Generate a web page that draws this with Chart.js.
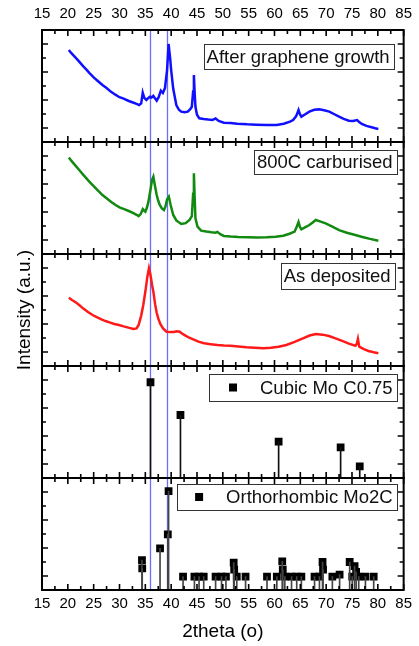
<!DOCTYPE html>
<html>
<head>
<meta charset="utf-8">
<script src="https://cdn.jsdelivr.net/npm/chart.js@4.4.1/dist/chart.umd.min.js"></script>
<style>
  html, body { margin: 0; padding: 0; background: #fff; }
  canvas { display: block; }
</style>
</head>
<body>
<canvas id="xrd" width="419" height="646"></canvas>
<script>
// X-ray diffraction scans, [2theta, intensity] in arbitrary units
const afterGrowth = [
  [20.2,6.57],[20.6,6.38],[21.0,6.22],[21.5,6.02],[22.2,5.74],[23.0,5.4],[23.6,5.17],[24.2,4.92],
  [25.0,4.62],[25.8,4.36],[26.7,4.07],[27.5,3.86],[28.3,3.6],[29.2,3.38],[30.0,3.2],[30.8,3.1],
  [31.8,2.93],[32.6,2.82],[33.3,2.72],[33.8,2.64],[34.2,2.76],[34.5,3.52],[34.8,3.15],[35.2,3.0],
  [35.6,3.15],[35.9,3.23],[36.2,3.18],[36.55,3.29],[36.9,3.1],[37.2,2.95],[37.6,3.22],[38.0,3.67],
  [38.4,3.5],[38.8,3.85],[39.2,5.1],[39.5,7.0],[39.8,6.0],[40.0,5.14],[40.4,3.8],[41.0,2.64],
  [41.5,2.3],[41.95,2.17],[42.6,2.12],[43.2,2.17],[43.7,2.35],[44.0,2.52],[44.25,3.6],[44.4,4.79],
  [44.55,3.5],[44.7,2.52],[45.0,1.95],[45.45,1.69],[46.3,1.64],[47.2,1.6],[48.0,1.58],[48.6,1.68],
  [49.2,1.5],[50.2,1.38],[51.5,1.36],[52.8,1.3],[54.7,1.26],[56.5,1.24],[58.5,1.22],[60.4,1.21],
  [61.8,1.3],[63.0,1.45],[63.6,1.57],[64.2,1.85],[64.65,2.29],[64.9,2.0],[65.2,1.81],[65.8,1.95],
  [66.75,2.17],[67.7,2.3],[68.65,2.33],[69.6,2.27],[70.6,2.17],[71.5,2.0],[72.5,1.81],[73.4,1.65],
  [74.4,1.52],[75.2,1.5],[76.0,1.57],[76.4,1.42],[76.9,1.29],[77.8,1.15],[78.8,1.05],[79.5,0.98],[80.1,0.93]
];
const carburised = [
  [20.2,6.9],[20.7,6.65],[21.4,6.35],[22.2,6.0],[23.0,5.65],[23.6,5.4],[24.15,5.17],[25.0,4.85],
  [25.8,4.55],[26.7,4.21],[27.5,3.98],[28.4,3.72],[29.25,3.5],[30.0,3.33],[30.9,3.2],[31.8,3.07],
  [32.7,2.92],[33.3,2.8],[33.7,2.71],[34.1,2.85],[34.5,3.21],[34.8,3.08],[35.0,3.02],[35.3,3.3],
  [35.6,3.74],[36.0,4.6],[36.3,5.3],[36.55,5.52],[36.8,5.0],[37.2,4.21],[37.5,3.8],[37.8,3.5],
  [38.2,3.25],[38.6,3.14],[38.9,3.4],[39.2,3.9],[39.55,4.1],[39.9,3.5],[40.4,2.79],[41.0,2.4],
  [41.95,2.14],[42.8,2.2],[43.55,2.43],[44.0,2.7],[44.25,4.3],[44.4,5.76],[44.55,4.0],[44.7,2.55],
  [45.1,1.95],[45.8,1.67],[46.8,1.6],[47.8,1.55],[48.6,1.52],[48.95,1.58],[49.5,1.42],[50.2,1.29],
  [51.5,1.25],[53.0,1.22],[54.8,1.2],[56.6,1.17],[58.5,1.19],[60.2,1.24],[61.7,1.31],[62.9,1.45],
  [63.9,1.6],[64.3,1.95],[64.65,2.29],[64.9,1.95],[65.2,1.76],[65.9,1.9],[66.75,2.07],[67.4,2.25],
  [68.0,2.43],[68.8,2.33],[69.9,2.19],[71.2,1.95],[72.5,1.71],[74.0,1.52],[75.65,1.36],[77.0,1.22],
  [78.5,1.08],[80.1,0.95]
];
const asDeposited = [
  [20.2,4.88],[20.8,4.72],[21.5,4.55],[22.2,4.36],[23.0,4.1],[23.9,3.86],[24.8,3.64],[25.7,3.47],
  [26.5,3.33],[27.3,3.21],[28.2,3.1],[29.0,3.0],[29.9,2.93],[30.8,2.83],[31.7,2.74],[32.7,2.64],
  [33.3,2.68],[33.7,2.93],[34.2,3.6],[34.6,4.36],[35.0,5.3],[35.4,6.4],[35.7,6.98],[36.0,6.5],
  [36.3,5.8],[36.55,5.31],[36.9,4.4],[37.2,3.8],[37.5,3.4],[37.9,3.0],[38.4,2.7],[39.1,2.45],
  [39.8,2.42],[40.5,2.43],[41.1,2.48],[41.65,2.45],[42.1,2.32],[42.6,2.21],[43.5,2.02],[44.5,1.86],
  [45.4,1.72],[46.4,1.62],[47.6,1.56],[48.95,1.5],[50.2,1.47],[51.5,1.45],[53.0,1.4],[54.6,1.34],
  [56.2,1.3],[57.85,1.26],[59.3,1.3],[60.8,1.38],[62.3,1.5],[63.9,1.72],[65.5,1.98],[66.8,2.18],
  [68.0,2.29],[69.3,2.24],[70.55,2.14],[71.8,1.97],[73.1,1.79],[74.4,1.6],[75.65,1.45],[75.95,1.6],
  [76.15,1.93],[76.4,1.38],[77.3,1.2],[78.2,1.07],[79.2,0.98],[80.1,0.91]
];

// Reference reflections
const cubicPos = [36.0, 41.8, 60.8, 72.8, 76.5];
const cubicInt = [6.84, 4.5, 2.6, 2.19, 0.83];
const orthoPos = [34.35,34.4,37.85,39.35,39.5,42.3,44.5,45.4,46.3,48.6,49.75,50.6,52.1,52.2,52.7,54.4,
  58.55,60.45,61.5,61.6,62.0,63.3,64.3,65.2,67.75,68.7,69.3,69.4,71.2,72.6,74.55,75.05,75.5,75.8,76.3,77.6,79.2];
const orthoInt = [2.14,1.55,2.98,3.98,7.07,0.95,0.95,0.95,0.95,0.95,0.95,0.95,1.95,1.45,0.95,0.95,
  0.95,0.95,2.05,1.45,0.95,0.95,0.95,0.95,0.95,0.95,2.0,1.45,0.95,1.1,2.0,0.95,1.7,1.3,0.95,0.95,0.95];

// Marker lines across all panels
const guideLines = [35.9, 39.2];

// Axis ticks
const xTickValues = [15,20,25,30,35,40,45,50,55,60,65,70,75,80,85];
const xMinorValues = [17.5,22.5,27.5,32.5,37.5,42.5,47.5,52.5,57.5,62.5,67.5,72.5,77.5,82.5];
const yMajorValues = [1,3,5,7];
const yMinorValues = [2,4,6];

const panelNames = ['After graphene growth', '800C carburised', 'As deposited', 'Cubic Mo C0.75', 'Orthorhombic Mo2C'];

const FONT = '"Liberation Sans", Arial, sans-serif';
const pts = arr => arr.map(p => ({ x: p[0], y: p[1] }));
const sticks = (xs, ys) => xs.map((x, i) => ({ x, y: ys[i] }));

// top to bottom
const panelAxes = ['p1', 'p2', 'p3', 'p4', 'p5'];

function curve(label, data, axis, color) {
  return { type: 'line', label, data: pts(data), yAxisID: axis, borderColor: color,
           borderWidth: 2.5, pointRadius: 0, tension: 0, fill: false };
}
function stems(data, axis, color) {
  return { type: 'bar', label: '', data, yAxisID: axis, backgroundColor: color,
           barThickness: 1, grouped: false };
}
function markers(label, data, axis) {
  return { type: 'scatter', label, data, yAxisID: axis, pointStyle: 'rect', pointRadius: 5.5,
           backgroundColor: '#000', borderColor: '#000', borderWidth: 0, showLine: false };
}

const datasets = [
  curve(panelNames[0], afterGrowth, 'p1', '#1010ff'),
  curve(panelNames[1], carburised, 'p2', '#128a12'),
  curve(panelNames[2], asDeposited, 'p3', '#ff1a1a'),
  stems(sticks(cubicPos, cubicInt), 'p4', '#111'),
  markers(panelNames[3], sticks(cubicPos, cubicInt), 'p4'),
  stems(sticks(orthoPos, orthoInt), 'p5', '#444'),
  markers(panelNames[4], sticks(orthoPos, orthoInt), 'p5')
];

// vertical guide lines behind the data
const guidePlugin = {
  id: 'guides',
  beforeDatasetsDraw(chart) {
    const { ctx, chartArea: a, scales } = chart;
    ctx.save();
    ctx.strokeStyle = '#6b6bff';
    ctx.lineWidth = 1.3;
    guideLines.forEach(v => {
      const px = Math.round(scales.x.getPixelForValue(v)) + 0.5;
      ctx.beginPath(); ctx.moveTo(px, a.top); ctx.lineTo(px, a.bottom); ctx.stroke();
    });
    ctx.restore();
  }
};

// panel frames with inward ticks on every side
const framePlugin = {
  id: 'frames',
  afterDatasetsDraw(chart) {
    const { ctx, chartArea: a, scales } = chart;
    const xs = scales.x;
    ctx.save();
    ctx.strokeStyle = '#000';
    panelAxes.forEach(id => {
      const ys = scales[id];
      const top = ys.top, bottom = ys.bottom;
      ctx.lineWidth = 1.6;
      ctx.beginPath();
      xTickValues.forEach(v => {
        const px = xs.getPixelForValue(v);
        ctx.moveTo(px, top); ctx.lineTo(px, top + 6);
        ctx.moveTo(px, bottom); ctx.lineTo(px, bottom - 6);
      });
      xMinorValues.forEach(v => {
        const px = xs.getPixelForValue(v);
        ctx.moveTo(px, top); ctx.lineTo(px, top + 4);
        ctx.moveTo(px, bottom); ctx.lineTo(px, bottom - 4);
      });
      yMajorValues.forEach(v => {
        const py = ys.getPixelForValue(v);
        ctx.moveTo(a.left, py); ctx.lineTo(a.left + 6, py);
        ctx.moveTo(a.right, py); ctx.lineTo(a.right - 6, py);
      });
      yMinorValues.forEach(v => {
        const py = ys.getPixelForValue(v);
        ctx.moveTo(a.left, py); ctx.lineTo(a.left + 4, py);
        ctx.moveTo(a.right, py); ctx.lineTo(a.right - 4, py);
      });
      ctx.stroke();
      ctx.lineWidth = 2;
      ctx.strokeRect(a.left, top, a.right - a.left, bottom - top);
    });
    ctx.restore();
  }
};

// boxed captions, one per panel
const captionPlugin = {
  id: 'captions',
  afterDraw(chart, args, opts) {
    const { ctx, chartArea: a, scales } = chart;
    ctx.save();
    ctx.font = '18.5px ' + FONT;
    opts.items.forEach(it => {
      const ys = scales[it.axis];
      const text = panelNames[it.name];
      const tw = ctx.measureText(text).width;
      const right = a.right - it.right;
      const top = ys.top + it.top;
      const textRight = right - 4;
      const textLeft = textRight - tw;
      const left = it.marker ? textLeft - 27 - it.markerGap : textLeft - 3;
      ctx.fillStyle = '#fff';
      ctx.fillRect(left, top, right - left, it.h);
      ctx.strokeStyle = '#333';
      ctx.lineWidth = 1;
      ctx.strokeRect(Math.round(left) + 0.5, Math.round(top) + 0.5, Math.round(right - left), it.h);
      ctx.fillStyle = '#111';
      ctx.textBaseline = 'middle';
      ctx.textAlign = 'left';
      ctx.fillText(text, textLeft, top + it.h / 2 + 1);
      if (it.marker) {
        ctx.fillStyle = '#000';
        ctx.fillRect(textLeft - 27 - 4, top + it.h / 2 - 4, 8, 8);
      }
    });
    ctx.restore();
  }
};

const xTicks = {
  color: '#000', font: { family: FONT, size: 15 }, maxRotation: 0, autoSkip: false,
  includeBounds: true
};

function panelAxis(extra) {
  return Object.assign({
    type: 'linear', position: 'left', stack: 'panels', stackWeight: 1, min: 0, max: 8,
    ticks: { display: false }, grid: { display: false, drawTicks: false }, border: { display: false },
    afterFit: s => { s.width = 42; }
  }, extra || {});
}

new Chart(document.getElementById('xrd'), {
  type: 'line',
  data: { datasets },
  options: {
    responsive: false,
    animation: false,
    events: [],
    layout: { padding: { left: 0, right: 10, top: 0, bottom: 0 } },
    plugins: {
      legend: { display: false },
      tooltip: { enabled: false },
      captions: {
        items: [
          { axis: 'p1', name: 0, right: 10, top: 14, h: 25 },
          { axis: 'p2', name: 1, right: 7, top: 8, h: 24 },
          { axis: 'p3', name: 2, right: 9, top: 9, h: 26 },
          { axis: 'p4', name: 3, right: 7, top: 8, h: 27, marker: true, markerGap: 24 },
          { axis: 'p5', name: 4, right: 7, top: 6, h: 26, marker: true, markerGap: 22 }
        ]
      }
    },
    scales: {
      x: {
        type: 'linear', position: 'bottom', min: 15, max: 85, offset: false,
        afterBuildTicks: s => { s.ticks = xTickValues.map(v => ({ value: v })); },
        ticks: Object.assign({ padding: 5 }, xTicks),
        grid: { display: false, drawTicks: false }, border: { display: false },
        title: { display: true, text: '2theta (o)', color: '#000', font: { family: FONT, size: 19 },
                 padding: { top: 0, bottom: 3 } },
        afterFit: s => { s.height = 56; }
      },
      xTop: {
        type: 'linear', position: 'top', min: 15, max: 85, offset: false,
        afterBuildTicks: s => { s.ticks = xTickValues.map(v => ({ value: v })); },
        ticks: Object.assign({ padding: 7 }, xTicks),
        grid: { display: false, drawTicks: false }, border: { display: false },
        afterFit: s => { s.height = 30; }
      },
      // stacked panels are laid out from the bottom up
      p5: panelAxis(),
      p4: panelAxis(),
      p3: panelAxis({ title: { display: true, text: 'Intensity (a.u.)', color: '#000',
                               font: { family: FONT, size: 19 }, padding: { top: 13, bottom: 0 } } }),
      p2: panelAxis(),
      p1: panelAxis()
    }
  },
  plugins: [guidePlugin, framePlugin, captionPlugin]
});
</script>
</body>
</html>
